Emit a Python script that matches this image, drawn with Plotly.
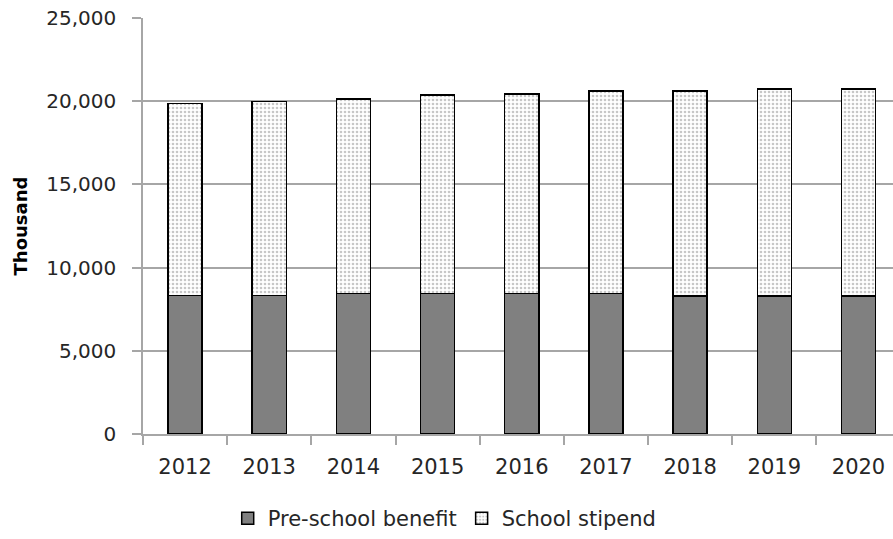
import plotly.graph_objects as go

years = ["2012", "2013", "2014", "2015", "2016", "2017", "2018", "2019", "2020"]
preschool = [8330, 8330, 8430, 8430, 8430, 8430, 8290, 8290, 8290]
total = [19870, 19980, 20120, 20380, 20440, 20600, 20600, 20720, 20720]
stipend = [t - p for t, p in zip(total, preschool)]
y_ticks = [0, 5000, 10000, 15000, 20000, 25000]

FONT = "DejaVu Sans"
GRID = "#a6a6a6"

fig = go.Figure()
fig.add_trace(go.Bar(
    x=years, y=preschool, name="Pre-school benefit",
    marker=dict(color="#808080", line=dict(color="#000000", width=1.5)),
))
fig.add_trace(go.Bar(
    x=years, y=stipend, name="School stipend",
    marker=dict(color="#ffffff", line=dict(color="#000000", width=1.5),
                pattern=dict(shape=".", fgcolor="#909090", bgcolor="#ffffff",
                             size=4, solidity=0.35)),
))

fig.update_layout(
    width=893, height=539,
    barmode="stack", bargap=0.595,
    plot_bgcolor="white", paper_bgcolor="white",
    margin=dict(l=143, r=0, t=18, b=105),
    font=dict(family=FONT, size=20, color="#262626"),
    showlegend=True,
    legend=dict(orientation="h", x=0.498, xanchor="center", xref="container",
                y=9, yanchor="middle", yref="container",
                font=dict(family=FONT, size=21, color="#262626"),
                itemwidth=30, tracegroupgap=0, traceorder="normal"),
    xaxis=dict(type="category", range=[-0.5, 8.41],
               showline=True, linecolor=GRID, linewidth=1.5,
               ticks="outside", tickson="boundaries", ticklen=9,
               tickcolor=GRID, tickwidth=1.5, ticklabelstandoff=13,
               showgrid=False, tickfont=dict(size=21)),
    yaxis=dict(range=[0, 25000], tickvals=y_ticks, tickformat=",",
               showline=True, linecolor=GRID, linewidth=1.5,
               ticks="outside", ticklen=9, tickcolor=GRID, tickwidth=1.5,
               showgrid=True, gridcolor=GRID, gridwidth=1.5,
               zeroline=False, ticklabelstandoff=12,
               title=dict(text="<b>Thousand</b>", standoff=14,
                          font=dict(size=18, color="#000000")),
               tickfont=dict(size=20)),
)

fig.write_html("out.html")
